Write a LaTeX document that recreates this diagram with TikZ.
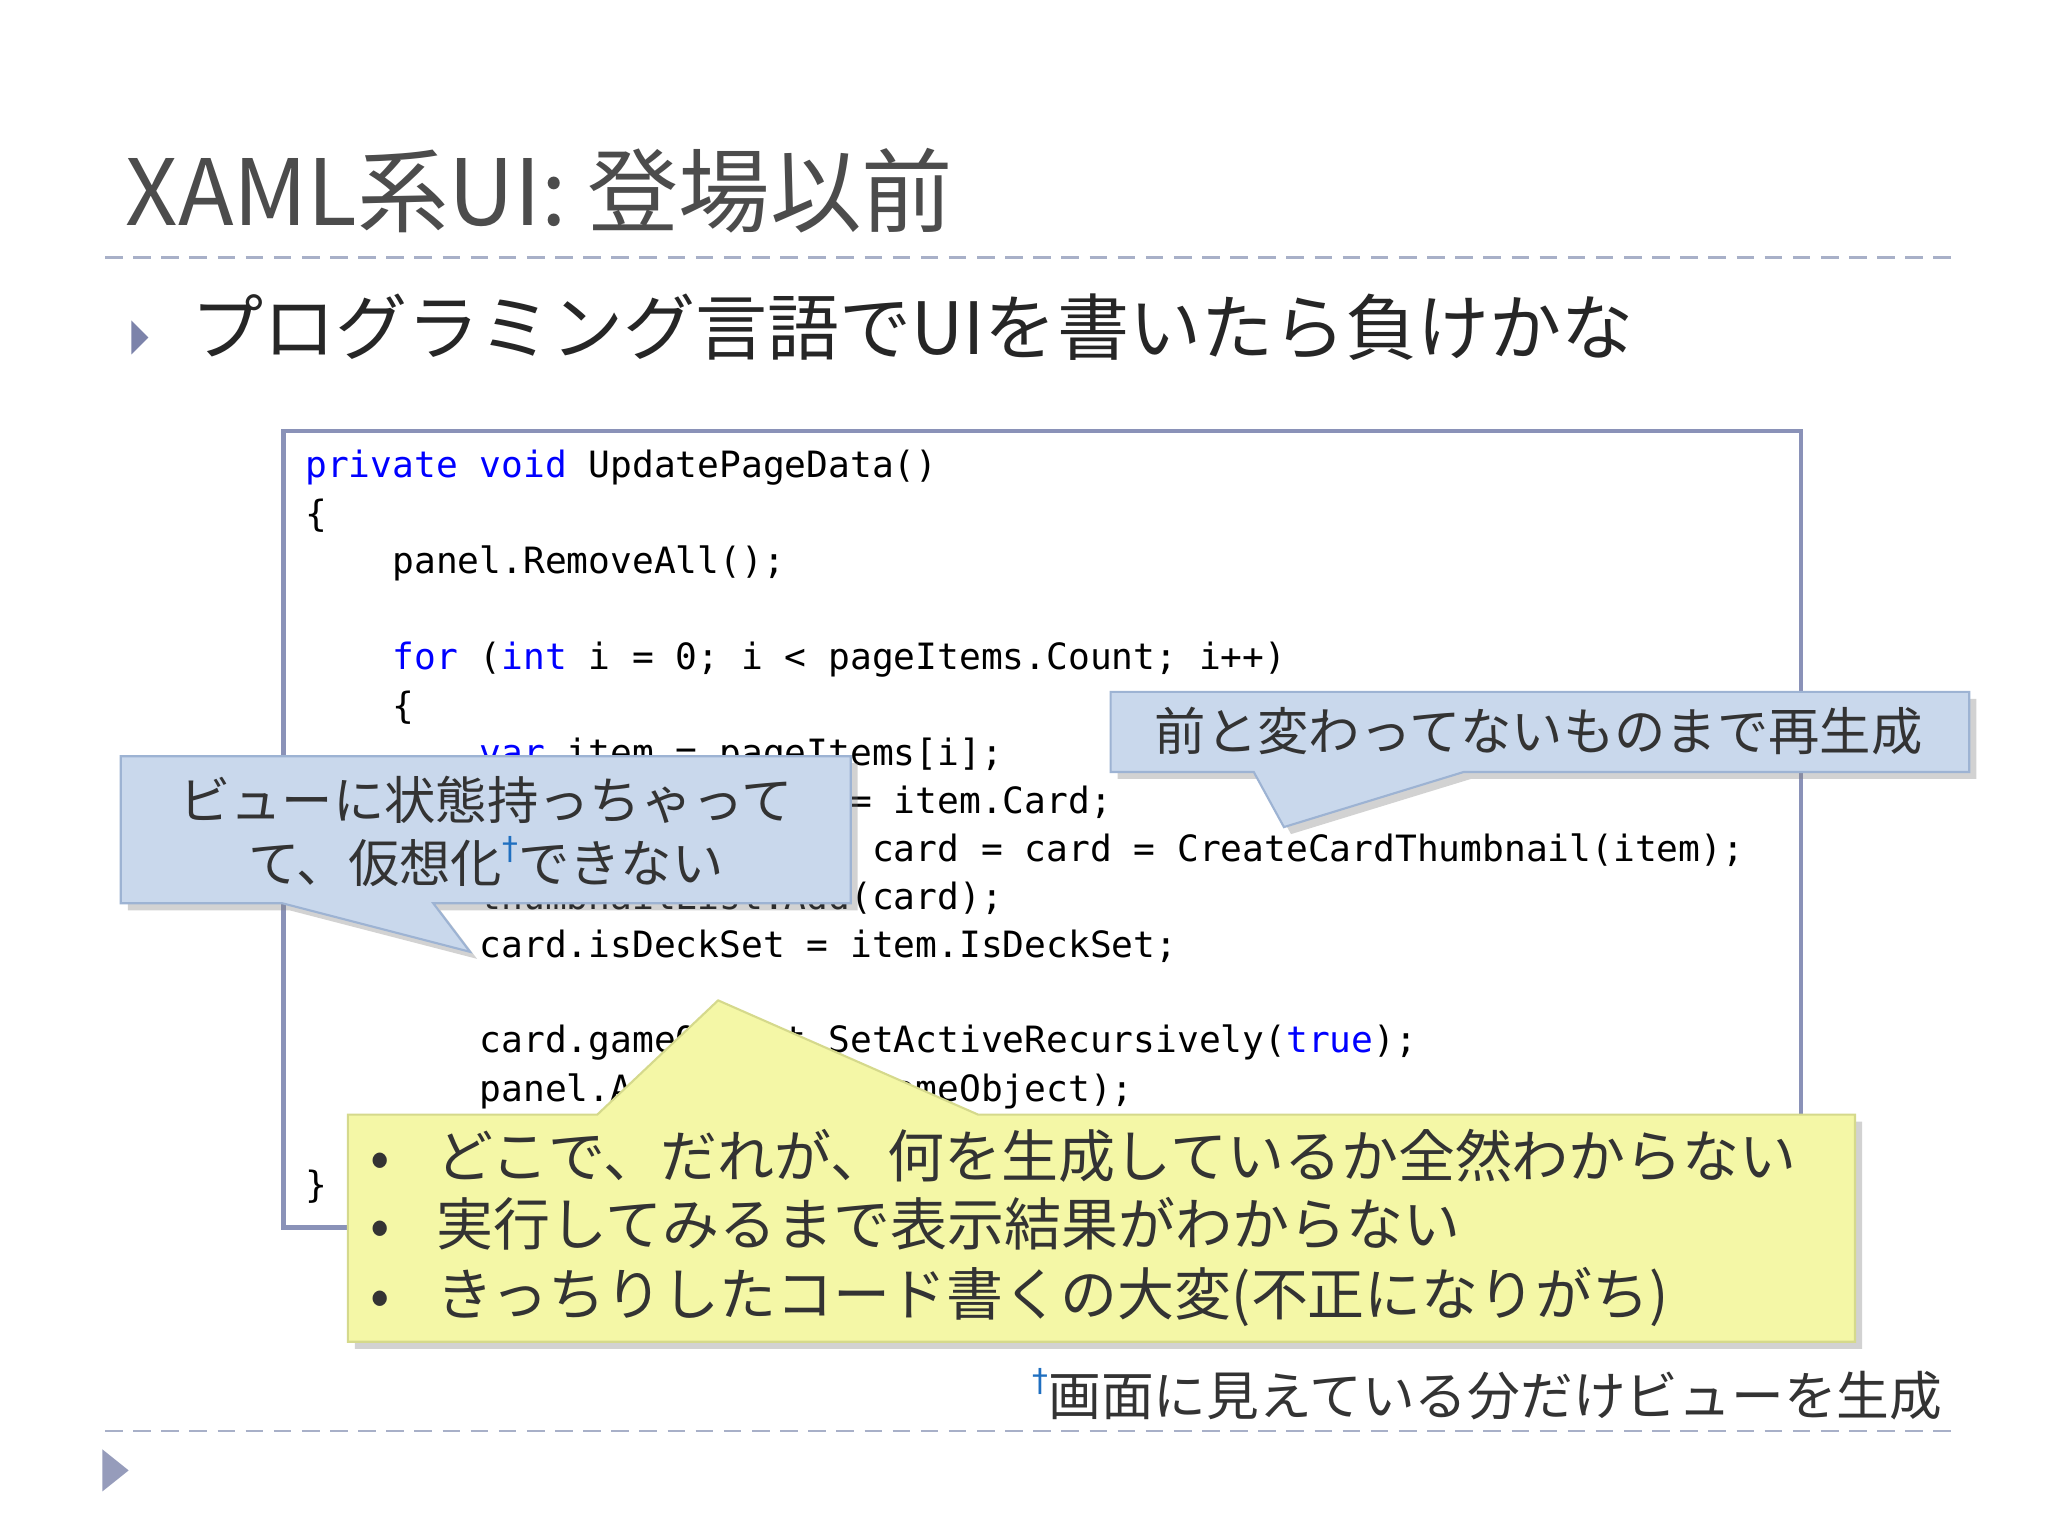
\documentclass[tikz,border=0pt]{standalone}
\usepackage{fontspec}
\setmainfont{Noto Sans CJK JP}
\newfontfamily\cjk{Noto Sans CJK JP}
\newfontfamily\codef{DejaVu Sans Mono}
\newfontfamily\dagf{DejaVu Sans}
\usetikzlibrary{shadows}
\definecolor{kw}{HTML}{0000FF}
\definecolor{rulec}{HTML}{A8B0C8}
\definecolor{tri}{HTML}{7C83AA}
\definecolor{boxc}{HTML}{8A92B8}
\definecolor{bluef}{HTML}{C9D8EC}
\definecolor{blued}{HTML}{9DB3D3}
\definecolor{yelf}{HTML}{F4F7A6}
\definecolor{yeld}{HTML}{D5D98C}
\definecolor{dag}{HTML}{1F6FC0}
\tikzset{
 code/.style={anchor=base west,inner sep=0,font=\codef\fontsize{10.3pt}{12pt}\selectfont},
 callb/.style={fill=bluef,draw=blued,line width=0.6pt,drop shadow={shadow xshift=2pt,shadow yshift=-2pt,opacity=0.35}},
 cally/.style={fill=yelf,draw=yeld,line width=0.6pt,drop shadow={shadow xshift=2pt,shadow yshift=-2pt,opacity=0.35}},
 ctext/.style={inner sep=0,font=\cjk\fontsize{14.6pt}{17pt}\selectfont,text=black!80},
 ytext/.style={anchor=base west,inner sep=0,font=\cjk\fontsize{16.2pt}{19pt}\selectfont,text=black!80},
}
\newcommand{\kw}[1]{\textcolor{kw}{#1}}
\newcommand{\mydag}{\raisebox{0.45em}{\textcolor{dag}{{\dagf\fontsize{9pt}{10pt}\selectfont †}}}}
\begin{document}
\begin{tikzpicture}[x=0.013128cm,y=-0.013128cm]
\useasboundingbox (0,0) rectangle (1560,1170);
\fill[white] (0,0) rectangle (1560,1170);
\node[anchor=base west,inner sep=0,font=\cjk\fontsize{26pt}{28pt}\selectfont,text=black!70] (title) at (95,172) {XAML系UI: 登場以前};
\draw[rulec,dashed,line width=0.8pt,dash pattern=on 5pt off 3pt] (80,196) -- (1490,196);
\fill[tri] (100,244) -- (113,257) -- (100,270) -- cycle;
\node[anchor=base west,inner sep=0,font=\cjk\fontsize{20.5pt}{22pt}\selectfont,text=black!85] (bul) at (145,270) {プログラミング言語でUIを書いたら負けかな};
% code box
\draw[boxc,line width=1.2pt,fill=white] (216,328) rectangle (1372,935);
\def\cx#1{232+#1*16.6}
\node[code] (l1) at (232,364) {\kw{private} \kw{void} UpdatePageData()};
\node[code] (l2) at (232,401) {\{};
\node[code] (l3) at (\cx{4},437) {panel.RemoveAll();};
\node[code] (l5) at (\cx{4},510) {\kw{for} (\kw{int} i = 0; i < pageItems.Count; i++)};
\node[code] (l6) at (\cx{4},547) {\{};
\node[code] (l7) at (\cx{8},583) {\kw{var} item = pageItems[i];};
\node[code] (l8) at (\cx{8},620) {\kw{var} previousCard = item.Card;};
\node[code] (l9) at (\cx{8},656) {\kw{if} (card == \kw{null}) card = card = CreateCardThumbnail(item);};
\node[code] (l10) at (\cx{8},693) {thumbnailList.Add(card);};
\node[code] (l11) at (\cx{8},729) {card.isDeckSet = item.IsDeckSet;};
\node[code] (l13) at (\cx{8},802) {card.gameObject.SetActiveRecursively(\kw{true});};
\node[code] (l14) at (\cx{8},839) {panel.Attach(card.gameObject);};
\node[code] (l15) at (\cx{4},875) {\}};
\node[code] (l16) at (232,912) {\}};
% right callout
\path[callb] (846,527) -- (1500,527) -- (1500,588) -- (1115,588) -- (978,630) -- (955,588) -- (846,588) -- cycle;
\node[ctext] (c1) at (1172,557) {前と変わってないものまで再生成};
% left callout
\path[callb] (92,576) -- (648,576) -- (648,688) -- (330,688) -- (358,725) -- (215,688) -- (92,688) -- cycle;
\node[ctext] (c2a) at (370,609) {ビューに状態持っちゃって};
\node[ctext] (c2b) at (370,656) {て、仮想化\mydag できない};
% yellow callout
\path[cally] (265,849) -- (455,849) -- (547,762) -- (745,849) -- (1413,849) -- (1413,1022) -- (265,1022) -- cycle;
\node[ytext] (b1) at (282,897) {•};
\node[ytext] (y1) at (332,897) {どこで、だれが、何を生成しているか全然わからない};
\node[ytext] (b2) at (282,949) {•};
\node[ytext] (y2) at (332,949) {実行してみるまで表示結果がわからない};
\node[ytext] (b3) at (282,1002) {•};
\node[ytext] (y3) at (332,1002) {きっちりしたコード書くの大変(不正になりがち)};
% footnote
\node[anchor=base east,inner sep=0,font=\cjk\fontsize{15pt}{17pt}\selectfont,text=black!80] (fn) at (1480,1078) {\mydag 画面に見えている分だけビューを生成};
\draw[rulec,dashed,line width=0.8pt,dash pattern=on 5pt off 3pt] (80,1090) -- (1490,1090);
\fill[tri!80] (78,1104) -- (98,1120) -- (78,1136) -- cycle;
\end{tikzpicture}
\end{document}
